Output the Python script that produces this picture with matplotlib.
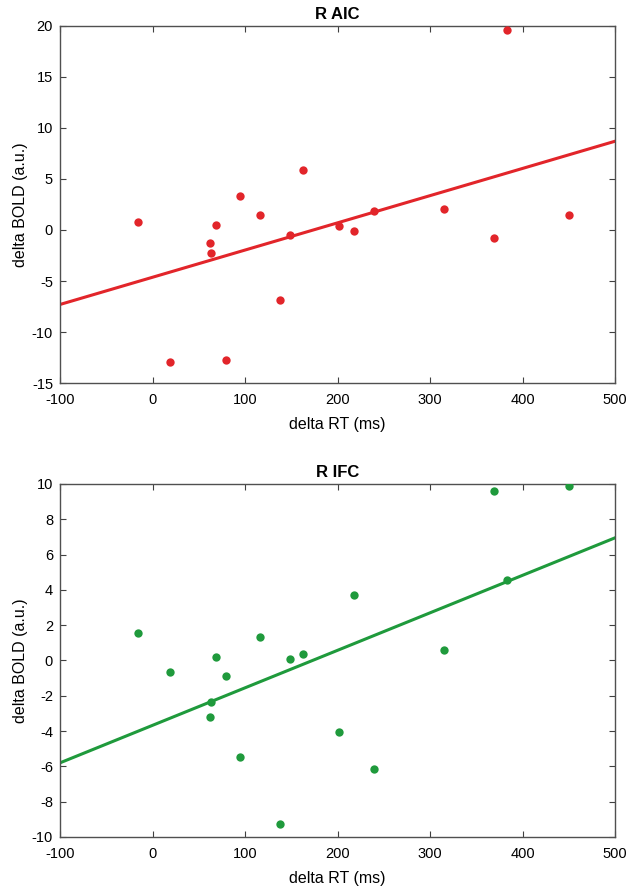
import matplotlib
matplotlib.use('Agg')
import matplotlib.pyplot as plt

plt.rcParams['font.family'] = ['Liberation Sans', 'DejaVu Sans']
plt.rcParams['axes.unicode_minus'] = False

# delta RT (ms), same subjects in both panels
delta_rt = [-15.5, 19, 61.7, 63, 69, 79, 95, 116, 138, 149, 163, 202, 218, 239, 315, 369, 383, 450]

# R AIC
aic_bold = [0.75, -12.9, -1.3, -2.3, 0.5, -12.7, 3.3, 1.5, -6.85, -0.5, 5.9, 0.4, -0.1, 1.9, 2.1, -0.8, 19.6, 1.45]
aic_fit_x = [-100, 500]
aic_fit_y = [-7.3, 8.7]

# R IFC
ifc_bold = [1.56, -0.68, -3.18, -2.35, 0.21, -0.86, -5.47, 1.32, -9.29, 0.1, 0.36, -4.08, 3.7, -6.13, 0.6, 9.59, 4.55, 9.9]
ifc_fit_x = [-100, 500]
ifc_fit_y = [-5.8, 6.95]

xticks = [-100, 0, 100, 200, 300, 400, 500]
aic_yticks = [-15, -10, -5, 0, 5, 10, 15, 20]
ifc_yticks = [-10, -8, -6, -4, -2, 0, 2, 4, 6, 8, 10]

fig = plt.figure(figsize=(6.33, 8.92), dpi=100)

panels = [
    ('R AIC', aic_bold, aic_fit_x, aic_fit_y, '#e2252a', aic_yticks, [0.0948, 0.5706, 0.8768, 0.4003]),
    ('R IFC', ifc_bold, ifc_fit_x, ifc_fit_y, '#1f9a3c', ifc_yticks, [0.0948, 0.0617, 0.8768, 0.3957]),
]

for title, bold, fx, fy, col, yt, rect in panels:
    ax = fig.add_axes(rect)
    ax.plot(fx, fy, '-', color=col, lw=2.2, zorder=2)
    ax.plot(delta_rt, bold, 'o', color=col, markersize=6, markeredgewidth=0, zorder=3)
    ax.set_xlim(xticks[0], xticks[-1])
    ax.set_ylim(yt[0], yt[-1])
    ax.set_xticks(xticks)
    ax.set_yticks(yt)
    ax.tick_params(direction='in', top=True, right=True, length=4, width=0.8,
                   color='#404040', labelsize=10.5)
    ax.tick_params(axis='x', pad=7.5)
    ax.tick_params(axis='y', pad=5)
    for s in ax.spines.values():
        s.set_color('#505050')
        s.set_linewidth(1.0)
    ax.set_title(title, fontsize=12, fontweight='bold', pad=5)
    ax.set_xlabel('delta RT (ms)', fontsize=11.5, labelpad=7)
    ax.set_ylabel('delta BOLD (a.u.)', fontsize=11.5, labelpad=3)

fig.savefig('out.png', dpi=100)
